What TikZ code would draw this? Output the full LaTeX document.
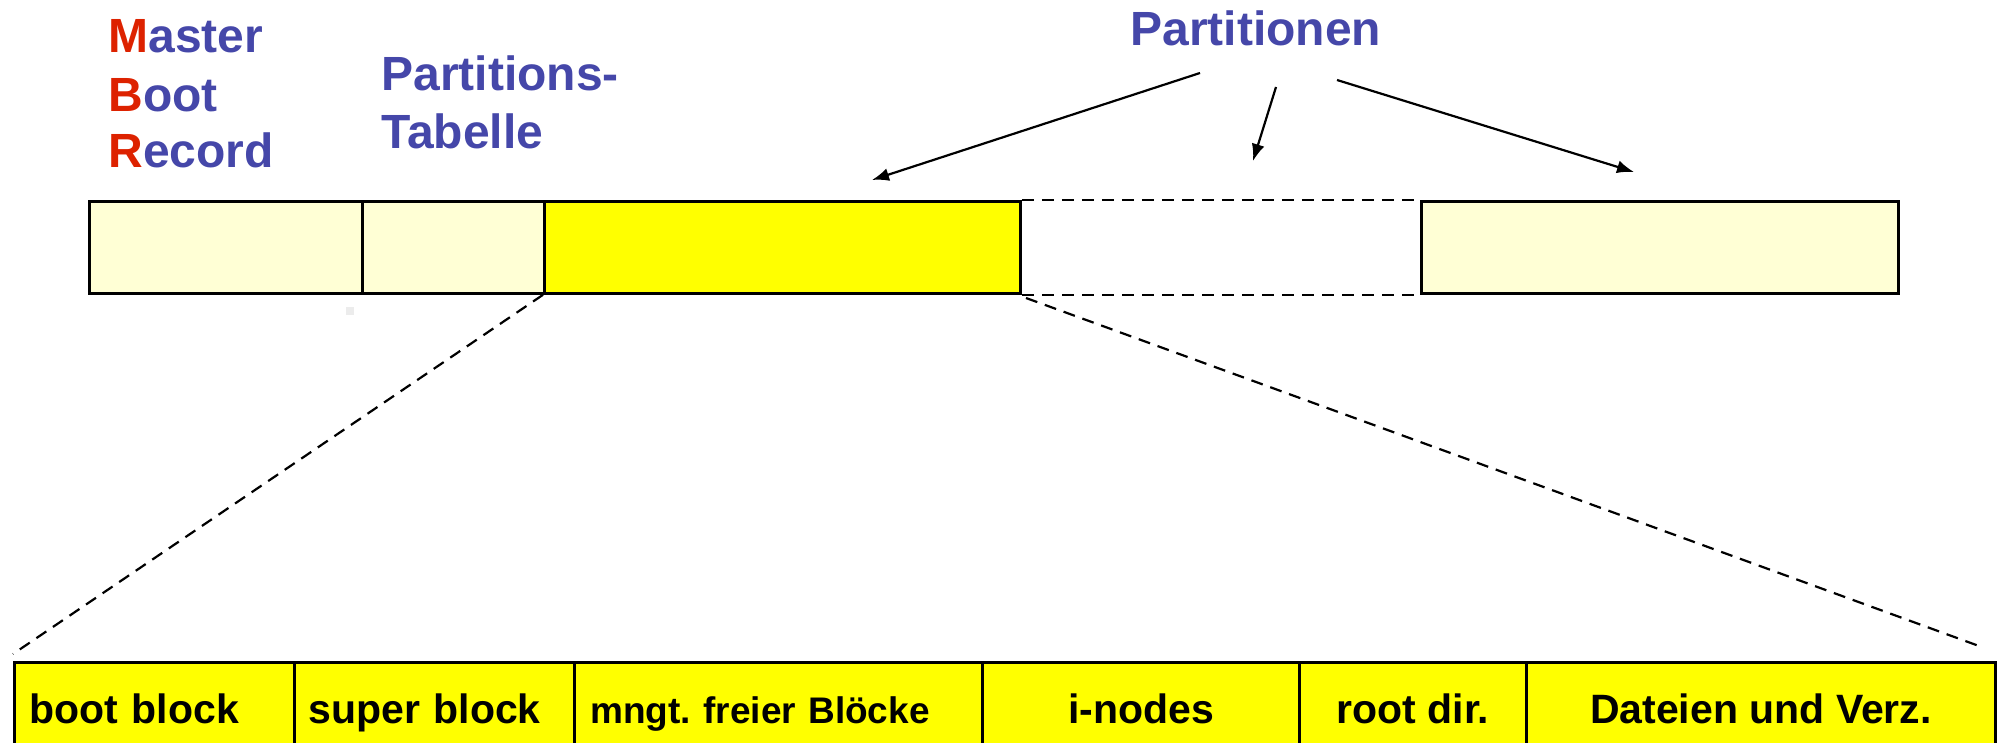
\documentclass[tikz,border=0pt]{standalone}
\usepackage{fontspec}
\setmainfont{Liberation Sans}
\usetikzlibrary{arrows.meta}
\definecolor{lightyel}{HTML}{FFFFD5}
\definecolor{yel}{HTML}{FFFF00}
\definecolor{lblue}{HTML}{4547A9}
\definecolor{lred}{HTML}{DD2200}
\frenchspacing
\begin{document}
\begin{tikzpicture}[x=0.5pt,y=-0.5pt,
  seg/.style={draw, line width=1.4pt, minimum height=46pt, inner sep=0pt, anchor=north west},
  bseg/.style={draw, fill=yel, line width=1.4pt, minimum height=49.5pt, inner ysep=0pt, anchor=north west,
    font=\fontsize{20.5}{24}\selectfont\bfseries, text height=15.4pt, text depth=4.1pt},
  title/.style={anchor=base west, inner sep=0pt, text=lblue, font=\fontsize{24}{29}\selectfont\bfseries},
  arr/.style={line width=1.1pt, -{Latex[length=8.5pt,width=6.5pt]}},
  dashln/.style={line width=1.1pt, dash pattern=on 6pt off 4pt}]
\useasboundingbox (0,0) rectangle (2000,743);
% labels
\node[title] (mbrM) at (108,53) {\textcolor{lred}{M}aster};
\node[title] (mbrB) at (108,112) {\textcolor{lred}{B}oot};
\node[title] (mbrR) at (108,168) {\textcolor{lred}{R}ecord};
\node[title] (ptA) at (381,91) {Partitions-};
\node[title] (ptB) at (381,149) {Tabelle};
\node[title] (parts) at (1130,46) {Partitionen};
% top bar
\node[seg, fill=lightyel, minimum width=136.5pt] (mbr) at (88,200) {};
\node[seg, fill=lightyel, minimum width=91pt] (pt) at (361,200) {};
\node[seg, fill=yel, minimum width=238pt] (p1) at (543,200) {};
\node[seg, fill=lightyel, minimum width=238.5pt] (p3) at (1420,200) {};
\draw[dashln] (p1.north east) -- (p3.north west);
\draw[dashln] (p1.south east) -- (p3.south west);
% arrows
\coordinate (a1s) at (1200,73); \coordinate (a1e) at (872,180);
\coordinate (a2s) at (1276,87); \coordinate (a2e) at (1253,161);
\coordinate (a3s) at (1337,80); \coordinate (a3e) at (1634,172);
\draw[arr] (a1s) -- (a1e);
\draw[arr] (a2s) -- (a2e);
\draw[arr] (a3s) -- (a3e);
% small artefact
\fill[gray!15] (346,307) rectangle (354,315);
% bottom bar
\node[bseg, text width=125pt, inner xsep=7.5pt, align=left] (bb) at (13,661) {boot block};
\node[bseg, text width=126pt, inner xsep=7pt, align=left] (sb) at (293,661) {super block};
\node[bseg, text width=188pt, inner xsep=8pt, align=left, font=\fontsize{18.5}{22}\selectfont\bfseries] (fb) at (573,661) {mngt. freier Blöcke};
\node[bseg, minimum width=158.5pt, inner xsep=0pt] (in) at (981,661) {i-nodes};
\node[bseg, minimum width=113.5pt, inner xsep=0pt] (rd) at (1298,661) {root dir.};
\node[bseg, minimum width=234.5pt, inner xsep=0pt] (dv) at (1525,661) {Dateien und Verz.};
% zoom lines
\coordinate (zl) at (13,654);
\coordinate (zrs) at (1026,298);
\coordinate (zr) at (1979,646);
\draw[dashln] (p1.south west) -- (zl);
\draw[dashln] (zrs) -- (zr);
\end{tikzpicture}
\end{document}
